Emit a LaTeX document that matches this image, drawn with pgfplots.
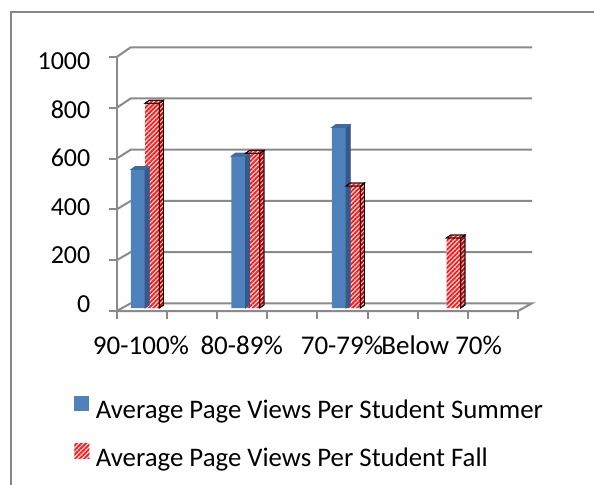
\documentclass[border=0pt]{standalone}
\usepackage{fontspec}
\setmainfont{Carlito}
\usepackage{pgfplots}
\pgfplotsset{compat=1.18}
\usetikzlibrary{patterns.meta}

\definecolor{sumfront}{HTML}{4F81BD}
\definecolor{sumside}{HTML}{36598A}
\definecolor{sumtop}{HTML}{3F6BA0}
\definecolor{fallred}{HTML}{FF1A1A}
\definecolor{fallbg}{HTML}{FFE4E4}
\definecolor{falldark}{HTML}{C00000}
\definecolor{gridgray}{HTML}{8A8A8A}
\definecolor{framegray}{HTML}{868686}

\tikzset{
  redpat/.style={fill=fallbg, postaction={pattern={Lines[angle=45,distance=1.6pt,line width=0.9pt]}, pattern color=fallred}},
  redside/.style={fill=fallbg!80!red, postaction={pattern={Lines[angle=45,distance=1.6pt,line width=0.9pt]}, pattern color=falldark}},
  wall/.style={gridgray, line width=1pt},
}
\pgfplotsset{
  sqlegend/.style={legend image code/.code={\fill[##1] (0pt,0pt) rectangle (7.5pt,7.5pt);}},
}

\begin{document}
\begin{tikzpicture}
\draw[framegray, line width=0.6pt] (5.5pt,-2pt) -- (5.5pt,236pt) -- (300pt,236pt);
\begin{axis}[
  at={(58.35pt,88pt)}, anchor=south west,
  scale only axis, width=200.65pt, height=127pt,
  xmin=-0.2816, xmax=3.7114, ymin=0, ymax=1000,
  clip=false, set layers,
  axis line style={draw=none},
  major tick length=0pt,
  xtick={-0.04,0.962,1.96,2.952},
  xticklabels={90-100\%,80-89\%,70-79\%,Below 70\%},
  ytick={15.7,207.0,398.4,589.7,781.1,972.4},
  yticklabels={0,200,400,600,800,1000},
  xticklabel style={anchor=base, inner sep=0pt, yshift=-23pt, font=\fontsize{13.5}{16}\selectfont},
  yticklabel style={anchor=east, inner sep=0pt, xshift=-13pt, font=\fontsize{13}{15}\selectfont},
  legend style={at={(axis description cs:-0.1064,-0.3441)}, anchor=north west,
    draw=none, fill=none, inner sep=0pt, row sep=11pt,
    font=\fontsize{13.4}{16}\selectfont, nodes={inner sep=0pt},
    /tikz/every odd column/.append style={column sep=3.2pt}},
  legend cell align=left,
]
% back wall, side wall and floor
\begin{pgfonlayer}{axis background}
\draw[wall] (axis cs:-0.2816,-11.81) -- (axis cs:-0.1423,18.5) -- (axis cs:3.8507,18.5) -- (axis cs:3.7114,-11.81) -- cycle;
\draw[wall] (axis cs:-0.2816,188.19) -- (axis cs:-0.1423,220.1) -- (axis cs:3.8507,220.1);
\draw[wall] (axis cs:-0.2816,388.19) -- (axis cs:-0.1423,421.7) -- (axis cs:3.8507,421.7);
\draw[wall] (axis cs:-0.2816,588.19) -- (axis cs:-0.1423,623.3) -- (axis cs:3.8507,623.3);
\draw[wall] (axis cs:-0.2816,788.19) -- (axis cs:-0.1423,824.9) -- (axis cs:3.8507,824.9);
\draw[wall] (axis cs:-0.2816,988.19) -- (axis cs:-0.1423,1026.5) -- (axis cs:3.8507,1026.5);
\end{pgfonlayer}
% front axis line and ticks
\draw[wall] (axis cs:-0.2816,-11.81) -- (axis cs:-0.2816,988.19);
\pgfplotsinvokeforeach{-11.81,188.19,388.19,588.19,788.19,988.19}{
  \draw[wall] (axis cs:-0.2816,#1) -- ++(-4pt,0pt);
}
\pgfplotsinvokeforeach{-0.2816,0.2175,0.7166,1.2158,1.7149,2.2140,2.7131,3.2123,3.7114}{
  \draw[wall] (axis cs:#1,-11.81) -- ++(0pt,-4pt);
}

% Summer
\addplot[ybar, bar width=7.1pt, bar shift=-3.55pt, fill=sumfront, draw=none, sqlegend]
  coordinates {(0,545) (1,598) (2,711)};
\addlegendentry{Average Page Views Per Student Summer}
\addplot[forget plot, only marks, mark=*, mark size=0pt, mark options={draw=none,fill=none},
  scatter, visualization depends on={rawy\as\rawy},
  scatter/@pre marker code/.code={
    \fill[sumside] (0pt,0pt) -- (2.15pt,1.5pt) -- (2.15pt,{1.5pt-\rawy*0.127pt}) -- (0pt,{-\rawy*0.127pt}) -- cycle;
    \fill[sumtop] (-7.1pt,0pt) -- (-4.95pt,1.5pt) -- (2.15pt,1.5pt) -- (0pt,0pt) -- cycle;
  },
  scatter/@post marker code/.code={}]
  coordinates {(0,545) (1,598) (2,711)};

% Fall
\addplot[ybar, bar width=7.1pt, bar shift=3.55pt, redpat, draw=none, sqlegend]
  coordinates {(0,806) (1,609) (2,480) (3,276)};
\addlegendentry{Average Page Views Per Student Fall}
\addplot[forget plot, only marks, mark=*, mark size=0pt, mark options={draw=none,fill=none},
  scatter, visualization depends on={rawy\as\rawy},
  scatter/@pre marker code/.code={
    \fill[redside] (7.1pt,0pt) -- (9.25pt,1.5pt) -- (9.25pt,{1.5pt-\rawy*0.127pt}) -- (7.1pt,{-\rawy*0.127pt}) -- cycle;
    \fill[redpat] (0pt,0pt) -- (2.15pt,1.5pt) -- (9.25pt,1.5pt) -- (7.1pt,0pt) -- cycle;
  },
  scatter/@post marker code/.code={}]
  coordinates {(0,806) (1,609) (2,480) (3,276)};
\end{axis}
\pgfresetboundingbox
\path[use as bounding box] (0,0) rectangle (297pt,242pt);
\end{tikzpicture}
\end{document}
